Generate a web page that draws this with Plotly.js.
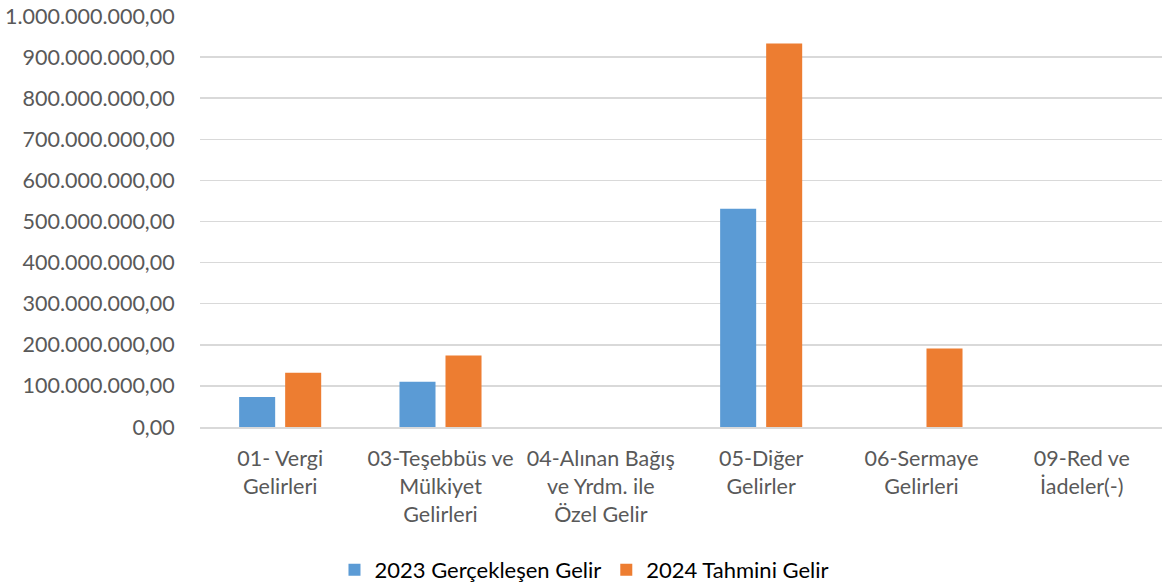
<!DOCTYPE html>
<html>
<head>
<meta charset="utf-8">
<script src="https://cdn.plot.ly/plotly-3.0.1.min.js"></script>
<style>html,body{margin:0;padding:0;background:#fff;}#chart{width:1162px;height:584px;}</style>
</head>
<body>
<div id="chart"></div>
<script>
const categories = [
  "01- Vergi<br>Gelirleri",
  "03-Teşebbüs ve<br>Mülkiyet<br>Gelirleri",
  "04-Alınan Bağış<br>ve Yrdm. ile<br>Özel Gelir",
  "05-Diğer<br>Gelirler",
  "06-Sermaye<br>Gelirleri",
  "09-Red ve<br>İadeler(-)"
];
const series2023Name = "2023 Gerçekleşen Gelir";
const series2024Name = "2024 Tahmini Gelir";
const values2023 = [73000000, 110000000, 0, 531000000, 0, 0];
const values2024 = [132000000, 174000000, 0, 933000000, 191000000, 0];
const yTickVals = [0, 100000000, 200000000, 300000000, 400000000, 500000000, 600000000, 700000000, 800000000, 900000000, 1000000000];
const yTickText = ["0,00", "100.000.000,00", "200.000.000,00", "300.000.000,00", "400.000.000,00", "500.000.000,00", "600.000.000,00", "700.000.000,00", "800.000.000,00", "900.000.000,00", "1.000.000.000,00"];

const font = "Lato, 'Open Sans', sans-serif";
const data = [
  {type: "bar", x: categories, y: values2023, name: series2023Name, marker: {color: "#5B9BD5"}, hoverinfo: "none"},
  {type: "bar", x: categories, y: values2024, name: series2024Name, marker: {color: "#ED7D31"}, hoverinfo: "none"}
];
const layout = {
  width: 1162, height: 584,
  margin: {l: 200, r: 0, t: 16, b: 157},
  paper_bgcolor: "#fff", plot_bgcolor: "#fff",
  font: {family: font, size: 21, color: "#595959"},
  barmode: "group",
  bargap: 0.426,
  bargroupgap: 0.217,
  showlegend: true,
  legend: {
    orientation: "h", xref: "container", yref: "container",
    x: 0.503, xanchor: "center", y: 0.024, yanchor: "middle",
    font: {family: font, size: 22, color: "#000"},
    itemwidth: 30, traceorder: "normal"
  },
  xaxis: {
    type: "category", showgrid: false, showline: true, linecolor: "#d9d9d9", linewidth: 1.5,
    ticks: "outside", ticklen: 12, tickcolor: "rgba(0,0,0,0)",
    tickfont: {family: font, size: 21.5, color: "#595959"}, fixedrange: true
  },
  yaxis: {
    range: [0, 1000000000], tickvals: yTickVals, ticktext: yTickText,
    showgrid: true, gridcolor: "#d9d9d9", gridwidth: 1.5, zeroline: false, showline: false,
    ticks: "outside", ticklen: 20, tickcolor: "rgba(0,0,0,0)",
    tickfont: {family: font, size: 21.5, color: "#595959"}, fixedrange: true
  }
};
Plotly.newPlot("chart", data, layout, {displayModeBar: false, staticPlot: true});
</script>
</body>
</html>
